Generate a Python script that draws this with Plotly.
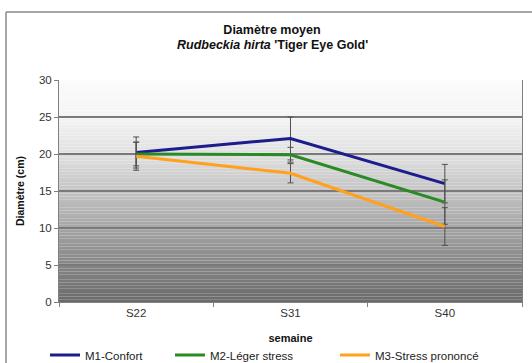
import plotly.graph_objects as go

semaines = ["S22", "S31", "S40"]
m1 = [20.2, 22.1, 16.0]
m1_err = [2.1, 2.9, 2.6]
m2 = [20.0, 19.9, 13.5]
m2_err = [1.6, 1.0, 3.0]
m3 = [19.7, 17.4, 10.2]
m3_err = [1.9, 1.3, 2.55]
y_ticks = [0, 5, 10, 15, 20, 25, 30]

names = ["M1-Confort", "M2-Léger stress", "M3-Stress prononcé"]
colors = ["#1c1c8c", "#2a8a25", "#ffa01e"]
legend_ids = ["legend", "legend2", "legend3"]

fig = go.Figure()
for name, vals, errs, col, lg in zip(names, [m1, m2, m3], [m1_err, m2_err, m3_err], colors, legend_ids):
    fig.add_trace(go.Scatter(
        x=semaines, y=vals, name=name, mode="lines", legend=lg,
        line=dict(color=col, width=3),
        error_y=dict(type="data", array=errs, visible=True, color="#505050", thickness=1, width=3),
    ))

# gradient background bands (styling)
stops = [(0.0, 106), (0.17, 134), (0.33, 164), (0.5, 196), (0.67, 224), (0.83, 244), (1.0, 251)]
def grey(t):
    for (a, ga), (b, gb) in zip(stops[:-1], stops[1:]):
        if a <= t <= b:
            return ga + (gb - ga) * (t - a) / (b - a)
    return stops[-1][1]

shapes = []
n = 80
for i in range(n):
    t0 = i / n
    t1 = (i + 1) / n
    g = int(round(grey((t0 + t1) / 2)))
    shapes.append(dict(type="rect", xref="x domain", yref="y domain", x0=0, x1=1, y0=t0, y1=t1,
                       fillcolor=f"rgb({g},{g},{g})", line=dict(width=0), layer="below"))
# outer chart border (left and top edges)
PL, PR, PT, PB = 59, 522, 80, 302
def px_x(p):
    return (p - PL) / (PR - PL)
def px_y(p):
    return (PB - p) / (PB - PT)
shapes.append(dict(type="line", xref="paper", yref="paper", x0=px_x(6), x1=px_x(6), y0=px_y(12), y1=px_y(380),
                   line=dict(color="#8a8a8a", width=1.5)))
shapes.append(dict(type="line", xref="paper", yref="paper", x0=px_x(6), x1=px_x(560), y0=px_y(12), y1=px_y(12),
                   line=dict(color="#8a8a8a", width=1.5)))
fig.update_layout(shapes=shapes)

leg_common = dict(orientation="h", yanchor="middle", y=px_y(355), xanchor="left",
                  font=dict(size=11.5, color="#222222"), bgcolor="rgba(0,0,0,0)")

fig.update_layout(
    width=532, height=363,
    margin=dict(l=PL, r=532 - PR, t=PT, b=363 - PB, autoexpand=False),
    paper_bgcolor="white",
    plot_bgcolor="white",
    font=dict(family="Liberation Sans, Arial, sans-serif", size=11, color="#333333"),
    title=dict(
        text="<b>Diamètre moyen</b>",
        x=272 / 532, xanchor="center", yref="container", y=1 - 30 / 363, yanchor="middle",
        font=dict(size=12.5, color="#111111"),
    ),
    annotations=[dict(
        text="<b><i>Rudbeckia hirta</i> 'Tiger Eye Gold'</b>",
        xref="paper", yref="paper", x=px_x(272), y=px_y(45), xanchor="center", yanchor="middle",
        showarrow=False, font=dict(size=12.5, color="#111111"),
    )],
    xaxis=dict(
        title=dict(text="<b>semaine</b>", font=dict(size=11, color="#111111"), standoff=16),
        range=[-0.5, 2.5], automargin=False,
        showgrid=False, showline=True, linecolor="#808080", linewidth=1,
        ticks="outside", tickson="boundaries", ticklen=4, tickcolor="#808080",
        tickfont=dict(size=11.5, color="#333333"), ticklabelstandoff=0,
    ),
    yaxis=dict(
        title=dict(text="<b>Diamètre (cm)</b>", font=dict(size=10.5, color="#111111"), standoff=12),
        range=[0, 30], tickvals=y_ticks, automargin=False,
        showgrid=True, gridcolor="#7a7a7a", gridwidth=1.5,
        showline=True, linecolor="#808080", linewidth=1, mirror=True,
        ticks="outside", ticklen=4, tickcolor="#808080",
        tickfont=dict(size=11.5, color="#333333"), zeroline=False,
    ),
    legend=dict(x=px_x(45), **leg_common),
    legend2=dict(x=px_x(170), **leg_common),
    legend3=dict(x=px_x(335), **leg_common),
    showlegend=True,
)

fig.write_html("out.html", config={"displayModeBar": False},
               post_script="document.body.style.margin='0';document.body.style.padding='0';document.body.style.overflow='hidden';")
